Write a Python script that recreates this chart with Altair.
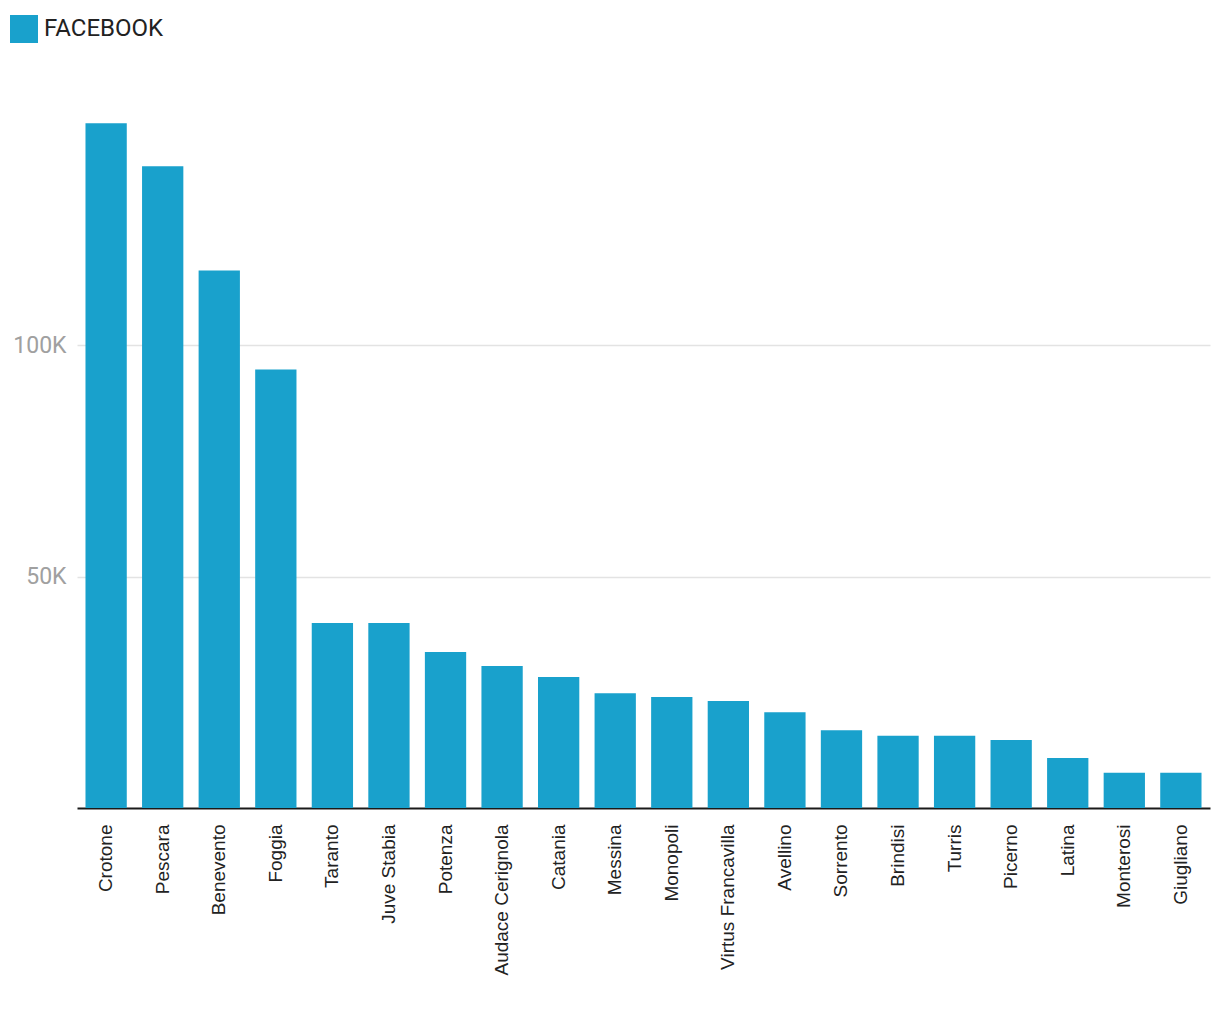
import altair as alt
import pandas as pd

teams = ["Crotone", "Pescara", "Benevento", "Foggia", "Taranto", "Juve Stabia",
         "Potenza", "Audace Cerignola", "Catania", "Messina", "Monopoli",
         "Virtus Francavilla", "Avellino", "Sorrento", "Brindisi", "Turris",
         "Picerno", "Latina", "Monterosi", "Giugliano"]
facebook = [148000, 138700, 116200, 94800, 40000, 40000, 33700, 30700, 28300,
            24800, 24000, 23100, 20700, 16800, 15600, 15600, 14700, 10800,
            7600, 7600]
series = "FACEBOOK"

df = pd.DataFrame({"team": teams, "value": facebook, "series": [series] * len(teams)})

chart = alt.Chart(df).mark_bar(color="#19a1cc").encode(
    x=alt.X("team:N", sort=None, title=None,
            scale=alt.Scale(paddingInner=0.27, paddingOuter=0.15),
            axis=alt.Axis(labelAngle=-90, labelFontSize=19, labelFont="Liberation Sans",
                          labelColor="#222222", ticks=False, labelPadding=16,
                          domainColor="#1a1a1a", domainWidth=2, grid=False)),
    y=alt.Y("value:Q", title=None,
            scale=alt.Scale(domain=[0, 150000], nice=False),
            axis=alt.Axis(values=[50000, 100000], format="~s", labelExpr="replace(datum.label, 'k', 'K')",
                          labelFontSize=23, labelFont="Roboto", labelColor="#a0a0a0",
                          ticks=False, domain=False, labelPadding=11,
                          gridColor="#e3e3e3", gridWidth=1.5)),
    color=alt.Color("series:N", scale=alt.Scale(range=["#19a1cc"]),
                    legend=alt.Legend(title=None, orient="none", legendX=-67, legendY=-99,
                                      symbolType="square", symbolSize=784,
                                      symbolStrokeWidth=0, labelFontSize=24,
                                      labelFont="Roboto", labelColor="#222222",
                                      labelOffset=6)),
).properties(
    width=1133, height=694,
    autosize=alt.AutoSizeParams(type="none"),
    padding={"left": 69, "top": 106, "right": 2, "bottom": 196},
).configure_view(stroke=None)

chart.save("out.html", embed_options={"renderer": "svg", "actions": False})
